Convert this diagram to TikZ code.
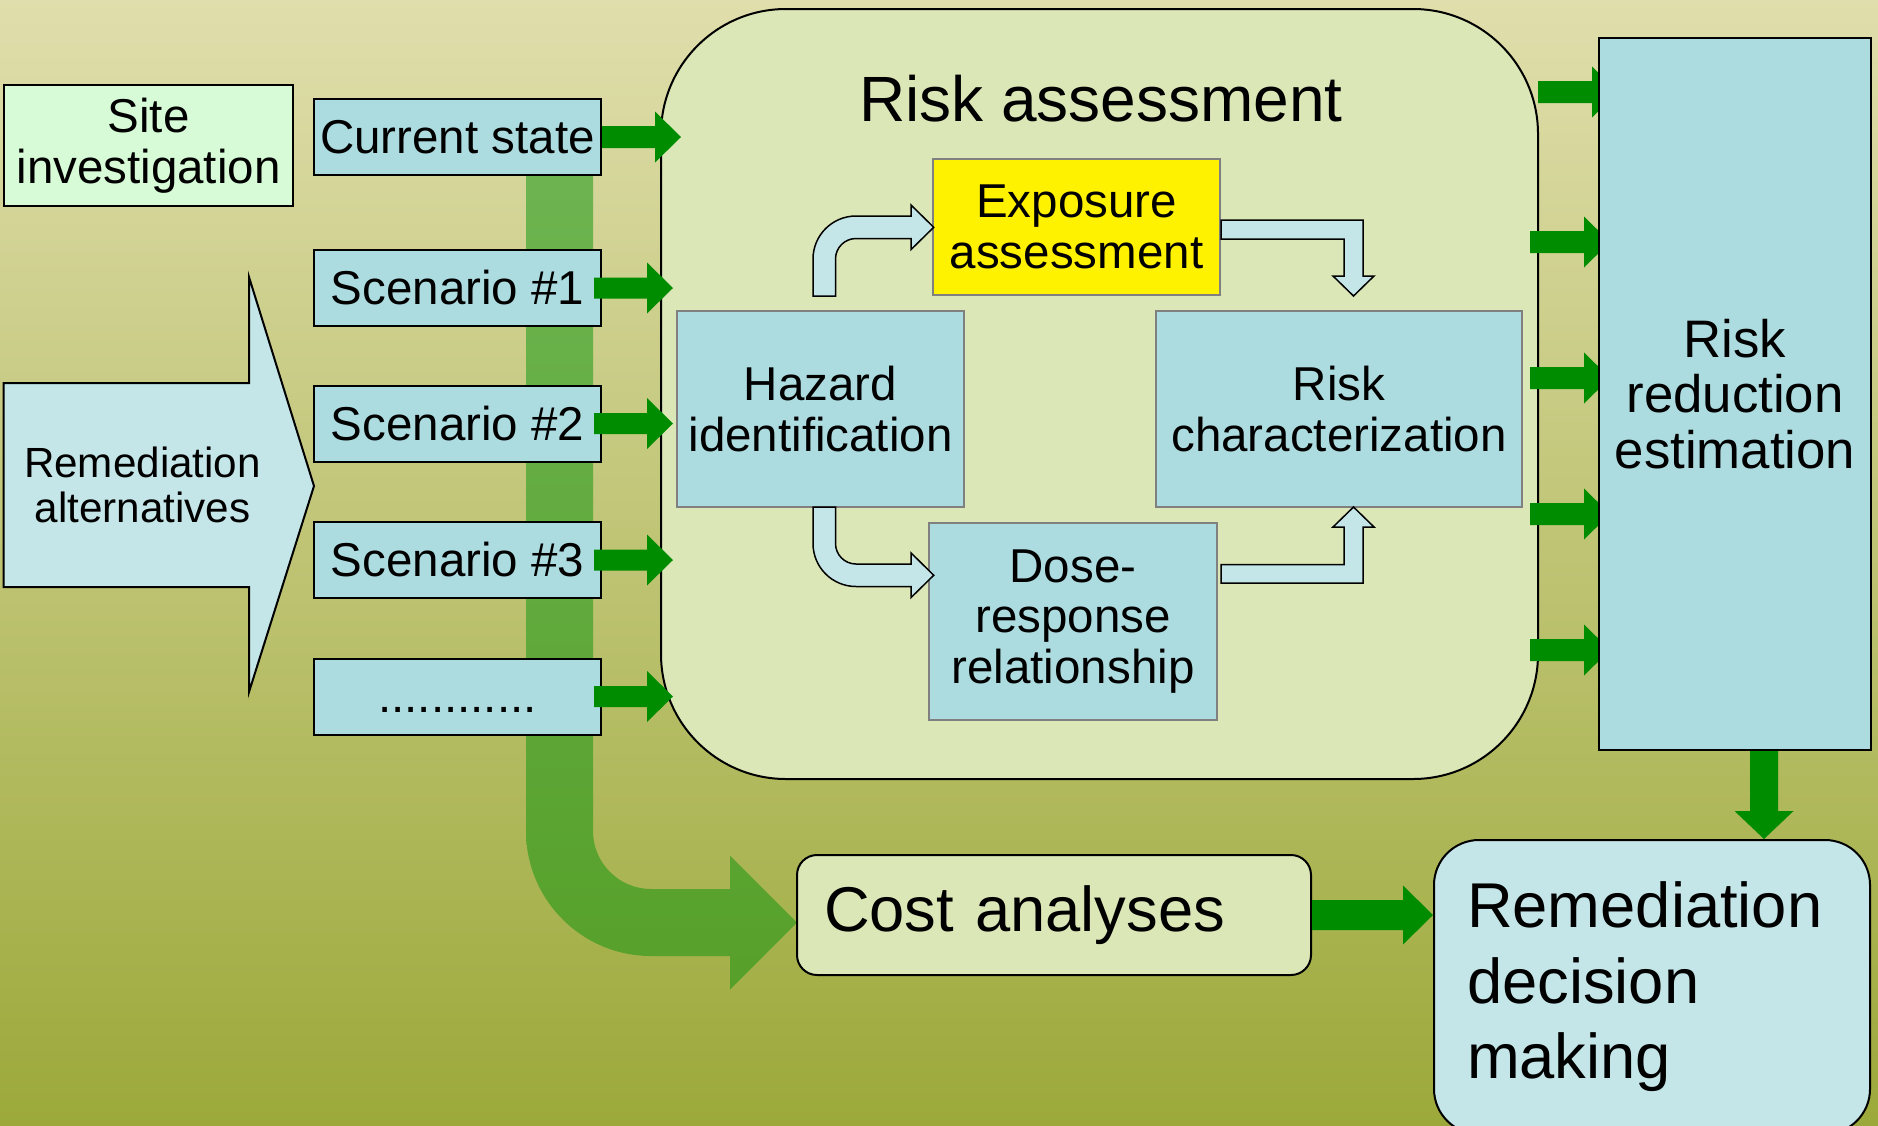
\documentclass[tikz,border=0pt]{standalone}
\usepackage{fontspec}
\setmainfont{Liberation Sans}

\definecolor{bgtop}{RGB}{224,222,172}
\definecolor{bgbot}{RGB}{156,169,58}
\definecolor{bandtop}{RGB}{110,181,82}
\definecolor{bandbot}{RGB}{86,160,42}
\definecolor{boxblue}{RGB}{173,220,224}
\definecolor{paleblue}{RGB}{197,230,232}
\definecolor{sitegreen}{RGB}{215,251,215}
\definecolor{panel}{RGB}{220,231,183}
\definecolor{arrowgreen}{RGB}{0,140,0}
\definecolor{edgegray}{RGB}{128,128,128}

\newcommand\fsmain{\fontsize{47.5}{50.5}\selectfont}
\newcommand\fsalt{\fontsize{42.2}{45.5}\selectfont}
\newcommand\fsrr{\fontsize{52.8}{55.7}\selectfont}
\newcommand\fsbig{\fontsize{63.3}{75.5}\selectfont}
\newcommand\fstitle{\fontsize{64}{70}\selectfont}

\tikzset{
  framebox/.style={draw=black, line width=2pt, fill=boxblue, inner sep=0pt,
    align=center, font=\fsmain},
  scenbox/.style={framebox, minimum width=287pt, minimum height=76pt},
  innerbox/.style={draw=edgegray, line width=2pt, fill=boxblue, inner sep=0pt,
    align=center, font=\fsmain},
  flowarrow/.style={draw=black, line width=1.5pt, fill=paleblue, line join=miter},
  pics/blockarrow/.style args={#1/#2/#3/#4}{code={
    % #1 length, #2 shaft width, #3 head width, #4 head length
    \fill[arrowgreen] (0,-#2/2) -- (#1-#4,-#2/2) -- (#1-#4,-#3/2) -- (#1,0)
      -- (#1-#4,#3/2) -- (#1-#4,#2/2) -- (0,#2/2) -- cycle;
  }}
}

\begin{document}
\begin{tikzpicture}[x=1pt,y=-1pt]
\useasboundingbox (0,0) rectangle (1878,1125);

% background
\shade[top color=bgtop, bottom color=bgbot] (0,0) rectangle (1878,1125);

% broad band running down behind the alternatives and into the cost analyses
\shade[top color=bandtop, bottom color=bandbot]
  (526,140) -- (526,831) .. controls (526,900) and (582,956) .. (651,956)
  -- (730,956) -- (730,989.5) -- (797,922.5) -- (730,855.5) -- (730,889)
  -- (651,889) .. controls (619,889) and (593,863) .. (593,831)
  -- (593,140) -- cycle;

% left column
\node[framebox, fill=sitegreen, minimum width=289pt, minimum height=121pt]
  (site) at (148.5,145.5) {Site\\investigation};
\node[scenbox] (cur) at (457.5,137) {Current state};
\node[scenbox] (s1) at (457.5,288) {Scenario \#1};
\node[scenbox] (s2) at (457.5,423.5) {Scenario \#2};
\node[scenbox] (s3) at (457.5,560) {Scenario \#3};
\node[scenbox] (sd) at (457.5,696.5) {\vphantom{S}............};

% remediation alternatives pointer
\draw[line width=2pt, fill=paleblue, line join=miter]
  (3.6,383) -- (249,383) -- (249,277) -- (314,486) -- (249,692) -- (249,587)
  -- (3.6,587) -- cycle;
\node[font=\fsalt, align=center, inner sep=0pt] (alt) at (142.5,485)
  {Remediation\\alternatives};

% risk assessment panel
\node[draw=black, line width=2pt, fill=panel, rounded corners=125pt,
  minimum width=877pt, minimum height=770pt, inner sep=0pt] (ra) at (1099.5,394) {};
\node[font=\fstitle, anchor=base, inner sep=0pt] (title) at (1101,121) {Risk assessment};

% inputs into the panel
\pic at (cur.east) {blockarrow=79/22/51/26};
\pic at ([xshift=-8pt]s1.east) {blockarrow=79/21/51/26};
\pic at ([xshift=-8pt]s2.east) {blockarrow=79/21/51/26};
\pic at ([xshift=-8pt]s3.east) {blockarrow=79/21/51/26};
\pic at ([xshift=-8pt]sd.east) {blockarrow=79/21/51/26};

% panel contents
\node[innerbox, minimum width=287pt, minimum height=196pt] (haz) at (820.5,409)
  {Hazard\\identification};
\node[innerbox, fill=yellow, minimum width=287pt, minimum height=136pt] (expo)
  at (1076.5,227) {Exposure\\assessment};
\node[innerbox, minimum width=366pt, minimum height=196pt] (riskc) at (1339,409)
  {Risk\\characterization};
\node[innerbox, minimum width=288pt, minimum height=197pt] (dose) at (1073,621.5)
  {Dose-\\response\\relationship};

% hazard identification -> exposure assessment
\draw[flowarrow] (813,296) -- (813,259) .. controls (813,235.25) and (832.25,216) .. (856,216)
  -- (911,216) -- (911,205) -- (933.7,227.3) -- (911,249.6) -- (911,238.5)
  -- (856,238.5) .. controls (844.7,238.5) and (835.5,247.7) .. (835.5,259)
  -- (835.5,296) -- cycle;
% hazard identification -> dose-response
\draw[flowarrow] (813,507) -- (813,543.5) .. controls (813,567.25) and (832.25,586.5) .. (856,586.5)
  -- (911,586.5) -- (911,597.6) -- (933.7,575.25) -- (911,552.9) -- (911,564)
  -- (856,564) .. controls (844.7,564) and (835.5,554.8) .. (835.5,543.5)
  -- (835.5,507) -- cycle;
% exposure assessment -> risk characterization
\draw[flowarrow] (1221,220) -- (1363,220) -- (1363,276) -- (1374,276) -- (1353.5,296)
  -- (1333,276) -- (1344,276) -- (1344,239) -- (1221,239) -- cycle;
% dose-response -> risk characterization
\draw[flowarrow] (1221,583) -- (1363,583) -- (1363,527) -- (1374,527) -- (1353.5,507)
  -- (1333,527) -- (1344,527) -- (1344,564.5) -- (1221,564.5) -- cycle;

% outputs to risk reduction estimation
\pic at (1538,92) {blockarrow=80/22/51/26};
\pic at (1530,242) {blockarrow=80/22/51/26};
\pic at (1530,378) {blockarrow=80/22/51/26};
\pic at (1530,514) {blockarrow=80/22/51/26};
\pic at (1530,650) {blockarrow=80/22/51/26};

\node[framebox, font=\fsrr, minimum width=272pt, minimum height=712pt] (rr)
  at (1735,394) {Risk\\reduction\\estimation};

% cost analyses and the decision
\node[draw=black, line width=2pt, fill=panel, rounded corners=20pt,
  minimum width=514pt, minimum height=120pt, inner xsep=27pt, inner ysep=0pt,
  text width=460pt, align=left, font=\fsbig] (cost) at (1054,915) {Cost analyses};
\node[draw=black, line width=2pt, fill=paleblue, rounded corners=45pt,
  minimum width=436pt, minimum height=294pt, inner xsep=33pt, inner ysep=0pt,
  text width=370pt, align=left, font=\fsbig] (decide) at (1652,987)
  {Remediation\\decision\\making};

\pic[rotate=-90] at ([xshift=29pt]rr.south) {blockarrow=88/28/59/28};
\pic at (cost.east) {blockarrow=121/30/59/30};
\end{tikzpicture}
\end{document}
